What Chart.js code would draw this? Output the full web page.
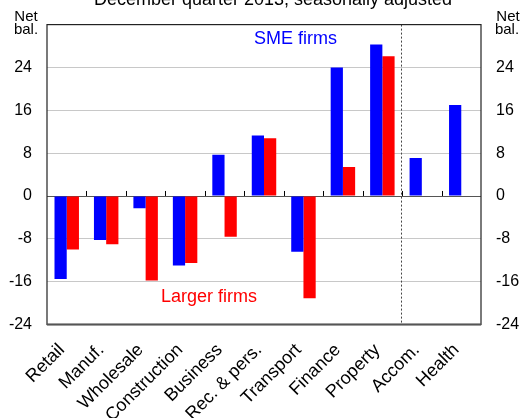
<!DOCTYPE html>
<html><head><meta charset="utf-8">
<script src="https://cdn.jsdelivr.net/npm/chart.js@4.4.0/dist/chart.umd.min.js"></script>
<style>html,body{margin:0;padding:0;background:#fff;}#wrap{width:521px;height:418px;}</style>
</head><body><div id="wrap"><canvas id="c" width="521" height="418"></canvas></div>
<script>
const categories = ["Retail","Manuf.","Wholesale","Construction","Business","Rec. & pers.","Transport","Finance","Property","Accom.","Health"];
const smeFirms = [-15.5,-8.2,-2.3,-13.0,7.7,11.3,-10.4,24.0,28.3,7.1,17.0];
const largerFirms = [-10.0,-9.0,-15.8,-12.5,-7.6,10.8,-19.1,5.4,26.1,null,null];
const yTicks = [-24,-16,-8,0,8,16,24];
const FONT = "'Liberation Sans', Arial, sans-serif";

const deco = {
  id:'deco',
  beforeDatasetsDraw(chart){
    const {ctx, chartArea:a, scales} = chart;
    const x = scales.x, y = scales.y;
    const y0 = y.getPixelForValue(0);
    ctx.save();
    ctx.strokeStyle = '#555'; ctx.lineWidth = 1;
    ctx.beginPath(); ctx.moveTo(a.left, Math.round(y0)+0.5); ctx.lineTo(a.right, Math.round(y0)+0.5); ctx.stroke();
    ctx.strokeStyle = '#000';
    for(let i=0;i<categories.length-1;i++){
      const bx = (x.getPixelForValue(i)+x.getPixelForValue(i+1))/2;
      ctx.beginPath(); ctx.moveTo(Math.round(bx)+0.5, y0); ctx.lineTo(Math.round(bx)+0.5, y0-5); ctx.stroke();
    }
    ctx.restore();
  },
  afterDraw(chart){
    const {ctx, chartArea:a, scales} = chart;
    const x = scales.x;
    ctx.save();
    const bx = (x.getPixelForValue(8)+x.getPixelForValue(9))/2 - 1.5;
    ctx.strokeStyle = '#444'; ctx.lineWidth = 1; ctx.setLineDash([2,2]);
    ctx.beginPath(); ctx.moveTo(Math.round(bx)+0.5, a.top); ctx.lineTo(Math.round(bx)+0.5, a.bottom); ctx.stroke();
    ctx.setLineDash([]);
    ctx.strokeStyle = '#222'; ctx.lineWidth = 1.2;
    ctx.strokeRect(a.left, a.top, a.right-a.left, a.bottom-a.top);
    ctx.strokeStyle = '#555'; ctx.lineWidth = 2;
    ctx.beginPath(); ctx.moveTo(a.left, a.bottom); ctx.lineTo(a.right, a.bottom); ctx.stroke();
    ctx.textBaseline = 'alphabetic';
    ctx.fillStyle = '#000';
    ctx.font = '18px ' + FONT; ctx.textAlign = 'center';
    ctx.fillText('December quarter 2013, seasonally adjusted', 273, 4.5);
    ctx.font = '15px ' + FONT;
    ctx.fillText('Net', 26, 21); ctx.fillText('bal.', 26, 33.5);
    ctx.fillText('Net', 508, 21); ctx.fillText('bal.', 507, 33.5);
    ctx.font = '18px ' + FONT; ctx.textAlign = 'left';
    ctx.fillStyle = '#0000ff'; ctx.fillText('SME firms', 254, 44);
    ctx.fillStyle = '#ff0000'; ctx.fillText('Larger firms', 161, 302);
    ctx.restore();
  }
};

new Chart(document.getElementById('c'), {
  type:'bar',
  data:{ labels:categories, datasets:[
    {label:'SME firms', data:smeFirms, backgroundColor:'#0000ff', borderWidth:0, yAxisID:'y'},
    {label:'Larger firms', data:largerFirms, backgroundColor:'#ff0000', borderWidth:0, yAxisID:'y'}
  ]},
  options:{
    responsive:false, animation:false, devicePixelRatio:1,
    layout:{padding:{top:14,left:0,right:0,bottom:0}},
    categoryPercentage:0.62, barPercentage:1.0,
    plugins:{legend:{display:false}, tooltip:{enabled:false}, title:{display:false}},
    scales:{
      x:{
        grid:{display:false, drawTicks:false},
        border:{display:false},
        ticks:{autoSkip:false, maxRotation:45, minRotation:45, padding:15, labelOffset:-5, color:'#000', font:{family:FONT, size:18}},
        afterFit(s){ s.height = 93.5; }
      },
      y:{
        position:'left', min:-24, max:32,
        afterBuildTicks(s){ s.ticks = yTicks.concat([32]).map(v=>({value:v})); },
        ticks:{padding:15, color:'#000', font:{family:FONT, size:16}, callback:(v)=> v===32 ? '' : String(v)},
        grid:{color:(c)=> (c.tick && (c.tick.value===0||c.tick.value===32||c.tick.value===-24)) ? 'rgba(0,0,0,0)' : '#c8c8c8', drawTicks:false, lineWidth:1},
        border:{display:false},
        afterFit(s){ s.width = 47; }
      },
      y2:{
        position:'right', min:-24, max:32,
        afterBuildTicks(s){ s.ticks = yTicks.concat([32]).map(v=>({value:v})); },
        ticks:{padding:15, color:'#000', font:{family:FONT, size:16}, callback:(v)=> v===32 ? '' : String(v)},
        grid:{display:false, drawTicks:false},
        border:{display:false},
        afterFit(s){ s.width = 40; }
      }
    }
  },
  plugins:[deco]
});
</script></body></html>
